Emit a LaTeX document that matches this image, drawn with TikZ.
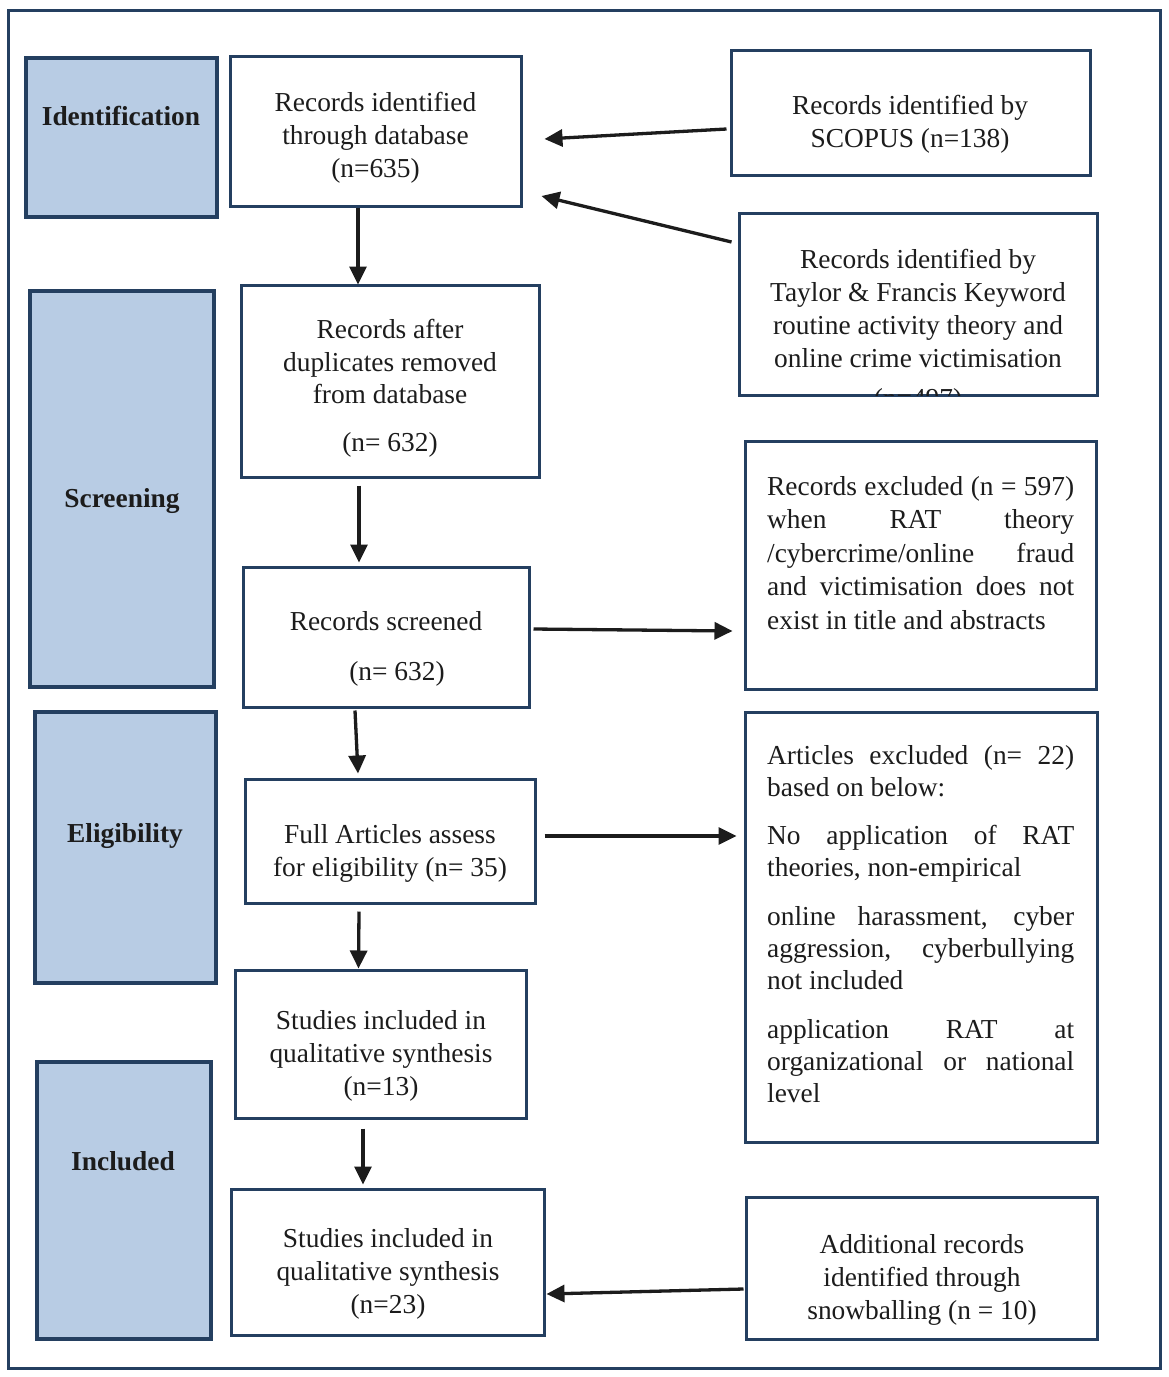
\documentclass[tikz,border=0pt]{standalone}
\usepackage{fontspec}
\setmainfont{Liberation Serif}
\usetikzlibrary{arrows.meta,calc}
\definecolor{navy}{HTML}{243F60}
\definecolor{panelfill}{HTML}{B8CCE4}
\definecolor{ink}{HTML}{1C1C1C}
\newcommand{\jline}[1]{\makebox[307pt][s]{#1}}
\begin{document}
\begin{tikzpicture}[x=1pt,y=-1pt,
  box/.style={draw=navy, line width=3pt, fill=white, rectangle, inner sep=0pt},
  panel/.style={draw=navy, line width=3.5pt, fill=panelfill, rectangle, inner sep=0pt},
  txt/.style={anchor=north, align=center, inner sep=0pt, text=ink, font=\fontsize{27.4}{33}\selectfont},
  jtxt/.style={anchor=north west, align=left, inner sep=0pt, text=ink, font=\fontsize{27.4}{33}\selectfont},
  ptxt/.style={anchor=base, inner sep=0pt, text=ink, font=\fontsize{27.4}{33}\selectfont\bfseries},
  arr/.style={line width=3.3pt, draw=ink, -{Triangle[length=18pt,width=17pt]}}]
\useasboundingbox (0,0) rectangle (1169,1377);
\fill[white] (0,0) rectangle (1169,1377);
% outer frame
\draw[navy, line width=3pt] (8,10) rectangle (1160,1368);
% stage panels
\node[panel, minimum width=191pt, minimum height=159pt] (P1) at (121.5,137.5) {};
\node[panel, minimum width=184pt, minimum height=396pt] (P2) at (122,489) {};
\node[panel, minimum width=181pt, minimum height=271pt] (P3) at (125.5,847.5) {};
\node[panel, minimum width=174pt, minimum height=277pt] (P4) at (124,1200.5) {};
\node[ptxt] (L1) at (121,125) {Identification};
\node[ptxt] (L2) at (122,507) {Screening};
\node[ptxt] (L3) at (125,842) {Eligibility};
\node[ptxt] (L4) at (123,1170) {Included};
% central boxes
\node[box, minimum width=291pt, minimum height=150pt] (A) at (375.5,131) {};
\node[box, minimum width=298pt, minimum height=192pt] (B) at (390,381) {};
\node[box, minimum width=286pt, minimum height=140pt] (C) at (386,637) {};
\node[box, minimum width=290pt, minimum height=124pt] (D) at (390,841) {};
\node[box, minimum width=291pt, minimum height=148pt] (E) at (380.5,1044) {};
\node[box, minimum width=313pt, minimum height=146pt] (F) at (387.5,1262) {};
% right boxes
\node[box, minimum width=359pt, minimum height=125pt] (R1) at (910.5,112.5) {};
\node[box, minimum width=358pt, minimum height=182pt] (R2) at (918,304) {};
\node[box, minimum width=351pt, minimum height=248pt] (R3) at (920.5,565) {};
\node[box, minimum width=352pt, minimum height=430pt] (R4) at (921,927) {};
\node[box, minimum width=351pt, minimum height=142pt] (R5) at (921.5,1268) {};
% texts
\node[txt] (tA) at (375.5,92) {Records identified\\through database\\(n=635)};
\node[txt, font=\fontsize{27.4}{32.5}\selectfont] (tB) at (390,319) {Records after\\duplicates removed\\from database\\[15pt](n= 632)};
\node[txt] (tC) at (386,611) {Records screened\\[17pt]\hspace*{22pt}(n= 632)};
\node[txt] (tD) at (390,824) {Full Articles assess\\for eligibility (n= 35)};
\node[txt] (tE) at (381,1010) {Studies included in\\qualitative synthesis\\(n=13)};
\node[txt] (tF) at (388,1228) {Studies included in\\qualitative synthesis\\(n=23)};
\node[txt] (tR1) at (910,95) {Records identified by\\SCOPUS (n=138)};
\begin{scope}
\clip ($(R2.north west)+(1.5,1.5)$) rectangle ($(R2.south east)+(-1.5,-1.5)$);
\node[txt] (tR2) at (918,249) {Records identified by\\Taylor \& Francis Keyword\\routine activity theory and\\online crime victimisation\\[7pt](n=497)};
\end{scope}
\node[jtxt, font=\fontsize{27.4}{33.5}\selectfont] (tR3) at (767,476) {\jline{Records excluded (n = 597)}\\\jline{when RAT theory}\\\jline{/cybercrime/online fraud}\\\jline{and victimisation does not}\\exist in title and abstracts};
\node[jtxt, font=\fontsize{27.4}{32}\selectfont] (tR4) at (767,745) {\jline{Articles excluded (n= 22)}\\based on below:\\[16pt]\jline{No application of RAT}\\theories, non-empirical\\[17pt]\jline{online harassment, cyber}\\\jline{aggression, cyberbullying}\\not included\\[17pt]\jline{application RAT at}\\\jline{organizational or national}\\level};
\node[txt] (tR5) at (922,1234) {Additional records\\identified through\\snowballing (n = 10)};
% arrows
\draw[arr] ($(R1.west)+(-3,16.5)$) -- ($(A.east)+(22,8)$);
\draw[arr] ($(R2.west)+(-6,-62)$) -- ($(A.east)+(19,65)$);
\draw[arr] ($(A.south)+(-17.5,0)$) -- ($(B.north)+(-32,1)$);
\draw[arr] ($(B.south)+(-31,7)$) -- ($(C.north)+(-27,-3)$);
\draw[arr] ($(C.south)+(-31,2)$) -- ($(D.north)+(-32,-4)$);
\draw[arr] ($(D.south)+(-31,7)$) -- ($(E.north)+(-22,0)$);
\draw[arr] ($(E.south)+(-17.5,9)$) -- ($(F.north)+(-24.5,-3)$);
\draw[arr] ($(C.east)+(3,-8)$) -- ($(R3.west)+(-11,66)$);
\draw[arr] ($(D.east)+(8,-5)$) -- ($(R4.west)+(-7,-91)$);
\draw[arr] ($(R5.west)+(-1,21)$) -- ($(F.east)+(1,32)$);
\end{tikzpicture}
\end{document}
